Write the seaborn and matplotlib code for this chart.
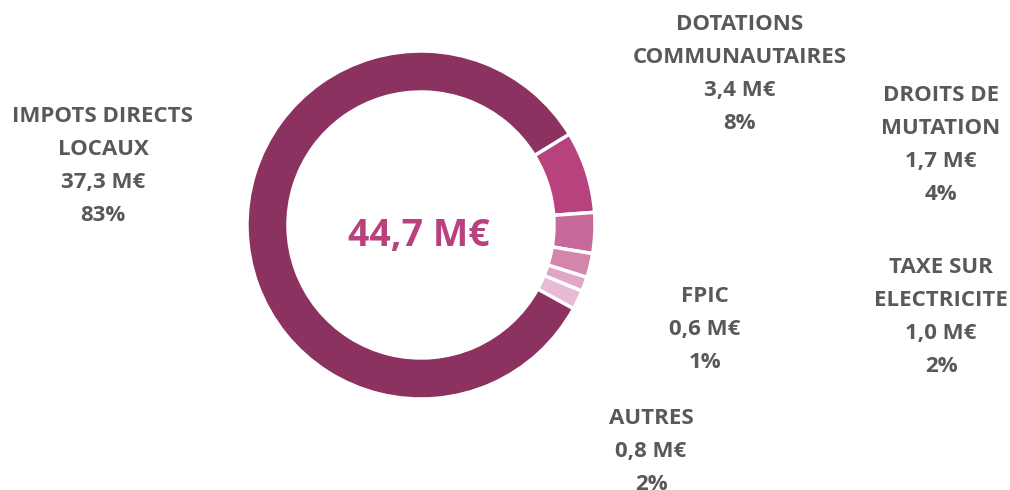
import seaborn as sns
import matplotlib.pyplot as plt

categories = ["DOTATIONS\nCOMMUNAUTAIRES", "DROITS DE\nMUTATION", "TAXE SUR\nELECTRICITE",
              "FPIC", "AUTRES", "IMPOTS DIRECTS\nLOCAUX"]
montants = [3.4, 1.7, 1.0, 0.6, 0.8, 37.3]
parts = [8, 4, 2, 1, 2, 83]
total = "44,7 M€"

couleurs = ["#B8427D", "#C76A9B", "#D385AC", "#DFA6C6", "#E8BBD3", "#8B3260"]
# label centres, in pixel coords (y from top)
pos_labels = [(740, 74), (941, 145), (941, 317), (705, 330), (651, 452), (103, 166)]

sns.set_theme(style="white")
plt.rcParams["font.family"] = ["Open Sans", "DejaVu Sans"]

fig = plt.figure(figsize=(10.1, 4.9), dpi=100)
ax = fig.add_axes([0, 0, 1, 1])
ax.set_xlim(0, 1010)
ax.set_ylim(0, 490)
ax.axis("off")

ax.pie(montants, colors=couleurs, center=(421, 490 - 225), radius=174,
       startangle=31.5, counterclock=False,
       wedgeprops=dict(width=41, edgecolor="white", linewidth=2.5))
ax.set_xlim(0, 1010)
ax.set_ylim(0, 490)

ax.text(419, 490 - 236, total, ha="center", va="center", fontsize=27,
        fontweight="bold", color="#B8427D")

for cat, m, p, (x, y) in zip(categories, montants, parts, pos_labels):
    txt = f"{cat}\n{m:.1f} M€".replace(".", ",") + f"\n{p}%"
    ax.text(x, 490 - y, txt, ha="center", va="center", multialignment="center",
            fontsize=16, fontweight="bold", color="#595959", linespacing=1.75)

fig.savefig("out.png", dpi=100)
